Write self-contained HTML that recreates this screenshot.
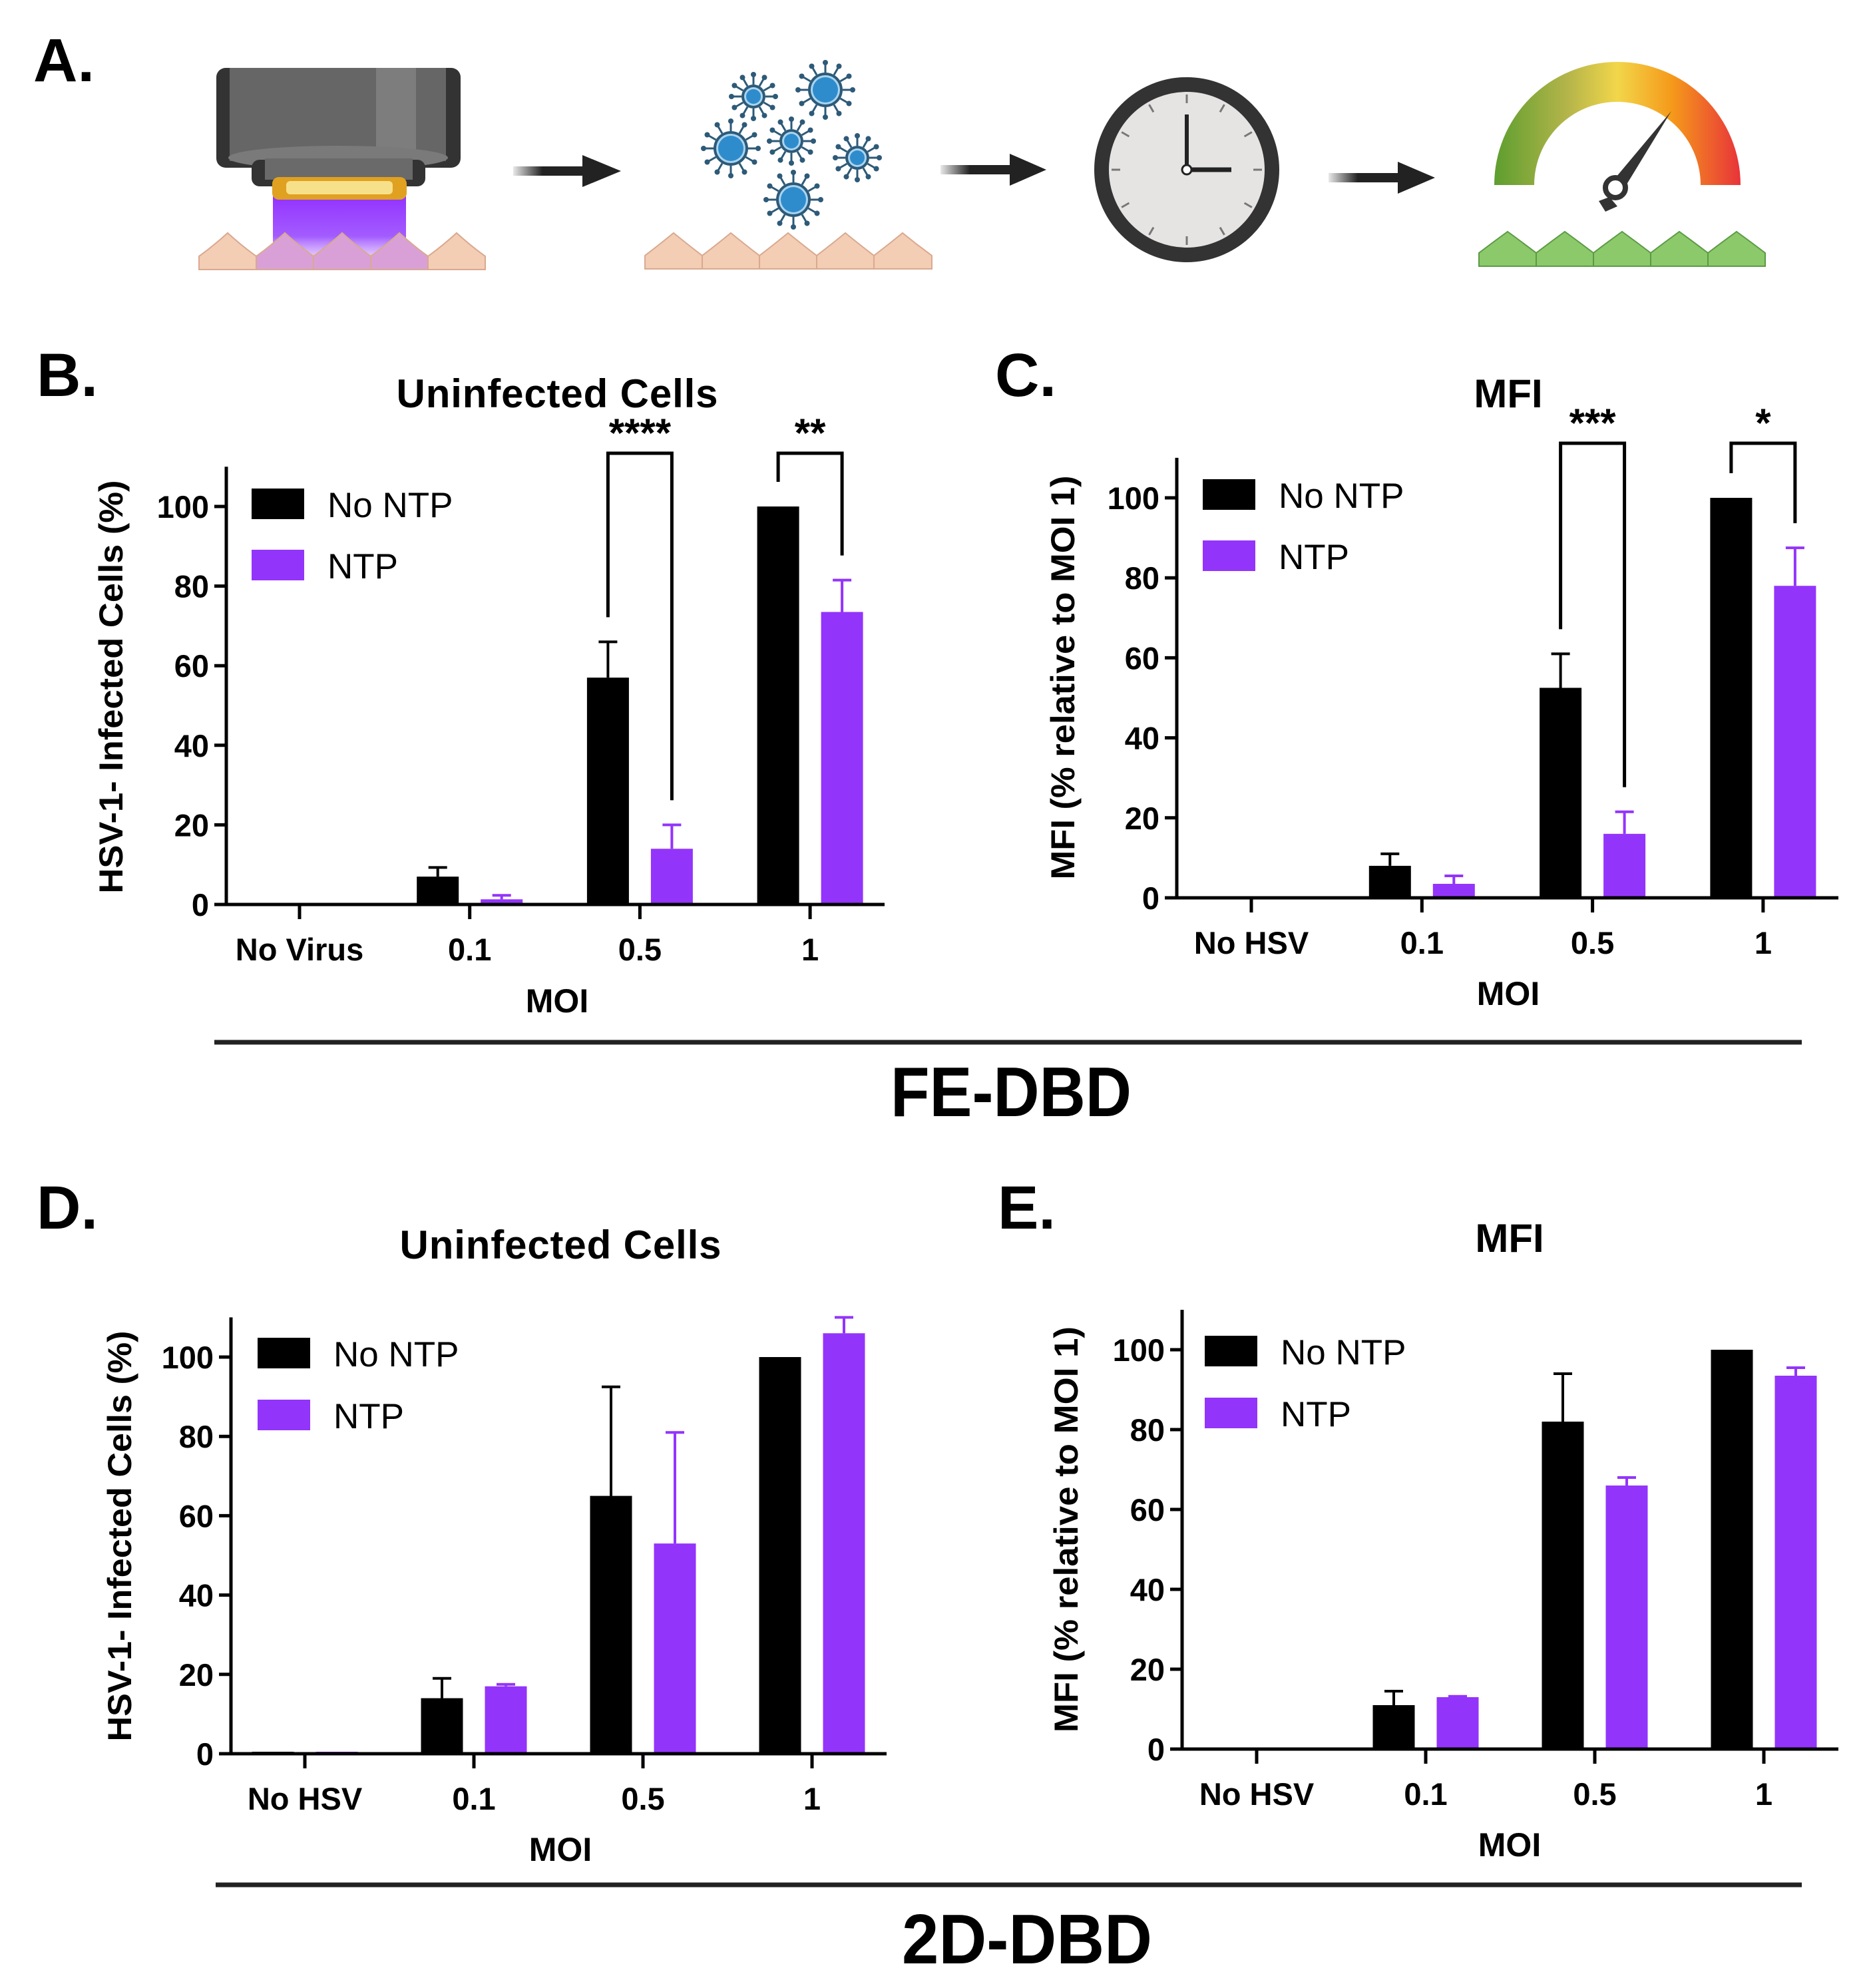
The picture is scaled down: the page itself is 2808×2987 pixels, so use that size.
<!DOCTYPE html>
<html><head><meta charset="utf-8"><style>
html,body{margin:0;padding:0;background:#fff;}
svg{display:block;font-family:"Liberation Sans",Arial,sans-serif;}
</style></head><body>
<svg id="fig" width="2808" height="2987" viewBox="0 0 2808 2987" xmlns="http://www.w3.org/2000/svg">
<defs>
<linearGradient id="beam" x1="0" y1="0" x2="0" y2="1"><stop offset="0" stop-color="#9333ff"/><stop offset="0.6" stop-color="#a35cff"/><stop offset="1" stop-color="#e6ccff" stop-opacity="0.6"/></linearGradient>
<linearGradient id="gauge" x1="0" y1="0" x2="1" y2="0"><stop offset="0" stop-color="#5d9e2f"/><stop offset="0.3" stop-color="#b5b54a"/><stop offset="0.5" stop-color="#f2d64a"/><stop offset="0.72" stop-color="#f59a1a"/><stop offset="1" stop-color="#e8333a"/></linearGradient>
<linearGradient id="arrowfade" x1="0" y1="0" x2="1" y2="0"><stop offset="0" stop-color="#222" stop-opacity="0.1"/><stop offset="0.4" stop-color="#222"/></linearGradient>
</defs>

<g>
<text x="50" y="122" font-size="92" font-weight="bold">A.</text>
<g>
<rect x="325" y="102" width="367" height="150" rx="14" fill="#333"/>
<rect x="345" y="102" width="325" height="140" fill="#666"/>
<rect x="565" y="102" width="60" height="140" fill="#7d7d7d"/>
<ellipse cx="508" cy="237" rx="165" ry="18" fill="#7a7a7a"/>
<rect x="378" y="240" width="261" height="40" rx="12" fill="#333"/>
<rect x="398" y="238" width="222" height="32" fill="#6a6a6a"/>
<rect x="410" y="295" width="200" height="100" fill="url(#beam)"/>
<rect x="409" y="266" width="202" height="34" rx="10" fill="#e0a020"/>
<rect x="430" y="272" width="160" height="20" rx="6" fill="#f7e08a"/>
</g>
<g fill="#f3cdb4" stroke="#d9a98f" stroke-width="2">
<path d="M299 405 V385 Q320 370 342 350 Q364 370 385 385 V405 Z"/><path d="M385 405 V385 Q406 370 428 350 Q450 370 471 385 V405 Z" fill="#d9a0d8"/><path d="M471 405 V385 Q492 370 514 350 Q536 370 557 385 V405 Z" fill="#d9a0d8"/><path d="M557 405 V385 Q578 370 600 350 Q622 370 643 385 V405 Z" fill="#d9a0d8"/><path d="M643 405 V385 Q664 370 686 350 Q708 370 729 385 V405 Z"/>
</g>
<g><rect x="771" y="250" width="110" height="14" fill="url(#arrowfade)"/><polygon points="875,233 933,257 875,281" fill="#222"/></g>
<g><rect x="1413" y="248" width="110" height="14" fill="url(#arrowfade)"/><polygon points="1517,231 1572,255 1517,279" fill="#222"/></g>
<g><rect x="1996" y="260" width="110" height="14" fill="url(#arrowfade)"/><polygon points="2100,243 2156,267 2100,291" fill="#222"/></g>
<g id="viruses"></g>
<g fill="#f3cdb4" stroke="#d9a98f" stroke-width="2">
<path d="M969 404 V384 Q990 368 1012 350 Q1034 368 1055 384 V404 Z"/><path d="M1055 404 V384 Q1076 368 1098 350 Q1120 368 1141 384 V404 Z"/><path d="M1141 404 V384 Q1162 368 1184 350 Q1206 368 1227 384 V404 Z"/><path d="M1227 404 V384 Q1248 368 1270 350 Q1292 368 1313 384 V404 Z"/><path d="M1313 404 V384 Q1334 368 1356 350 Q1378 368 1400 384 V404 Z"/>
</g>
<g>
<circle cx="1783" cy="255" r="128" fill="#e6e3e3" stroke="#333" stroke-width="22"/>
<g id="clockticks" stroke="#777" stroke-width="3"></g>
<line x1="1783" y1="255" x2="1783" y2="172" stroke="#222" stroke-width="6"/>
<line x1="1783" y1="255" x2="1850" y2="255" stroke="#222" stroke-width="7"/>
<circle cx="1783" cy="255" r="7" fill="#fff" stroke="#222" stroke-width="3"/>
</g>
<g>
<path d="M2245 278 A185 185 0 0 1 2615 278 L2555 278 A125 125 0 0 0 2305 278 Z" fill="url(#gauge)"/>
<polygon points="2511,167 2436,290 2418,278" fill="#333"/>
<circle cx="2427" cy="282" r="15" fill="#fff" stroke="#333" stroke-width="8"/>
<polygon points="2402,302 2418,296 2430,310 2412,318" fill="#333"/>
</g>
<g fill="#8cc96a" stroke="#5b9a45" stroke-width="2">
<path d="M2222 400 V380 Q2243 364 2265 348 Q2287 364 2308 380 V400 Z"/><path d="M2308 400 V380 Q2329 364 2351 348 Q2373 364 2394 380 V400 Z"/><path d="M2394 400 V380 Q2415 364 2437 348 Q2459 364 2480 380 V400 Z"/><path d="M2480 400 V380 Q2501 364 2523 348 Q2545 364 2566 380 V400 Z"/><path d="M2566 400 V380 Q2587 364 2609 348 Q2631 364 2652 380 V400 Z"/>
</g>
</g>

<g id="charts"></g>

<line x1="322" y1="1566" x2="2707" y2="1566" stroke="#222" stroke-width="7"/>
<text x="1338" y="1677" font-size="106" font-weight="bold" textLength="362" lengthAdjust="spacingAndGlyphs">FE-DBD</text>
<line x1="324" y1="2832" x2="2707" y2="2832" stroke="#222" stroke-width="7"/>
<text x="1355" y="2950" font-size="106" font-weight="bold" textLength="376" lengthAdjust="spacingAndGlyphs">2D-DBD</text>
</svg>
<script>
const categoriesB = ["No Virus","0.1","0.5","1"];
const categoriesOther = ["No HSV","0.1","0.5","1"];
const yTicks = [0,20,40,60,80,100];
const seriesNames = ["No NTP","NTP"];
const bNoNtp = [0,7,57,100];
const bNoNtpErr = [null,9.3,66,null];
const bNtp = [0,1.3,14,73.5];
const bNtpErr = [null,2.3,20,81.5];
const cNoNtp = [0,8,52.5,100];
const cNoNtpErr = [null,11,61,null];
const cNtp = [0,3.5,16,78];
const cNtpErr = [null,5.5,21.5,87.5];
const dNoNtp = [0.5,14,65,100];
const dNoNtpErr = [null,19,92.5,null];
const dNtp = [0.5,17,53,106];
const dNtpErr = [null,17.5,81,110];
const eNoNtp = [0,11,82,100];
const eNoNtpErr = [null,14.5,94,null];
const eNtp = [0,13,66,93.5];
const eNtpErr = [null,13.2,68,95.5];
const bSig = [{cat:2,label:"****"},{cat:3,label:"**"}];
const cSig = [{cat:2,label:"***"},{cat:3,label:"*"}];

const NS = "http://www.w3.org/2000/svg";
function mk(tag, attrs, parent, text){
  const e = document.createElementNS(NS, tag);
  for (const k in attrs) e.setAttribute(k, attrs[k]);
  if (text !== undefined) e.textContent = text;
  parent.appendChild(e);
  return e;
}
const PURPLE = "#9334fb";

function drawChart(cfg){
  const root = document.getElementById("charts");
  const g = mk("g", {}, root);
  
  
  const yScale = v => cfg.y0 - (cfg.y0 - cfg.y100) * v / 100;
  const xCat = i => cfg.x0 + cfg.step * i;
  const yTop = yScale(110);

  const pl = mk("text", {x: cfg.letterX, y: cfg.letterY, "font-size": 92, "font-weight": "bold"}, g, cfg.letter);
  
  
  const t = mk("text", {x: cfg.titleX, y: cfg.titleY, "font-size": 60, "font-weight": "bold", "text-anchor": "middle"}, g, cfg.title);
  if (cfg.titleLen) t.setAttribute("textLength", cfg.titleLen);
  
  

  const bw = 63, off = 48;
  [[cfg.s1, cfg.e1, "#000"], [cfg.s2, cfg.e2, PURPLE]].forEach((ser, si) => {
    ser[0].forEach((v, i) => {
      const cx = xCat(i) + (si === 0 ? -off : off);
      const yv = Math.max(yScale(v), yTop);
      if (v > 0) {
        const r = mk("rect", {x: cx - bw/2, y: yv, width: bw, height: cfg.y0 - yv, fill: ser[2]}, g);
        
        
      }
      const ev = ser[1][i];
      if (ev !== null && ev !== undefined) {
        const ye = Math.max(yScale(ev), yTop);
        const el = mk("path", {d: `M${cx} ${yv} V${ye} M${cx-14} ${ye} H${cx+14}`, stroke: ser[2], "stroke-width": 4, fill: "none"}, g);
        
        
      }
    });
  });

  const ax = mk("path", {d: `M${cfg.axX} ${yTop} V${cfg.y0} H${cfg.xEnd}`, stroke: "#000", "stroke-width": 5, fill: "none"}, g);
  
  
  yTicks.forEach(v => {
    const y = yScale(v);
    mk("line", {x1: cfg.axX - 18, x2: cfg.axX, y1: y, y2: y, stroke: "#000", "stroke-width": 5}, g);
    const tl = mk("text", {x: cfg.axX - 26, y: y + 17, "font-size": 47, "font-weight": "bold", "text-anchor": "end"}, g, String(v));
    
    
  });
  cfg.cats.forEach((c, i) => {
    const x = xCat(i);
    mk("line", {x1: x, x2: x, y1: cfg.y0, y2: cfg.y0 + 22, stroke: "#000", "stroke-width": 5}, g);
    const tl = mk("text", {x: x, y: cfg.tickY, "font-size": 47, "font-weight": "bold", "text-anchor": "middle"}, g, c);
    
    
  });
  const xt = mk("text", {x: cfg.titleX, y: cfg.moiY, "font-size": 50, "font-weight": "bold", "text-anchor": "middle"}, g, "MOI");
  
  
  const yt = mk("text", {x: 0, y: 0, "font-size": 50, "font-weight": "bold", "text-anchor": "middle", textLength: cfg.yTitleLen, lengthAdjust: "spacingAndGlyphs", transform: `translate(${cfg.yTitleX} ${cfg.yTitleMid}) rotate(-90)`}, g, cfg.yTitle);
  
  

  const lg = mk("g", {}, g);
  
  
  [["#000", cfg.legY1], [PURPLE, cfg.legY2]].forEach((p, i) => {
    const sw = mk("rect", {x: cfg.legX, y: p[1], width: 79, height: 46, fill: p[0]}, lg);
    
    
    const lt = mk("text", {x: cfg.legX + 114, y: p[1] + 43, "font-size": 53}, lg, seriesNames[i]);
    
    
  });

  (cfg.sig || []).forEach(s => {
    const i = s.cat;
    const xl = xCat(i) - off, xr = xCat(i) + off;
    const yl = Math.max(yScale(cfg.e1[i] !== null ? cfg.e1[i] : cfg.s1[i]), yTop) - 37;
    const yr = Math.max(yScale(cfg.e2[i] !== null ? cfg.e2[i] : cfg.s2[i]), yTop) - 37;
    const yb = cfg.brY;
    const br = mk("path", {d: `M${xl} ${yl} V${yb} H${xr} V${yr}`, stroke: "#000", "stroke-width": 5, fill: "none"}, g);
    
    
    const st = mk("text", {x: (xl + xr) / 2, y: yb - 10, "font-size": 60, "font-weight": "bold", "text-anchor": "middle"}, g, s.label);
    
    
  });
}

drawChart({name:"chart-b-uninfected-cells", letter:"B.", letterX:55, letterY:595, title:"Uninfected Cells", titleX:837, titleY:612, titleLen:483,
  axX:340, y0:1359, y100:761, xEnd:1329, x0:450, step:255.7, cats:categoriesB, tickY:1443, moiY:1521,
  yTitle:"HSV-1- Infected Cells (%)", yTitleX:184, yTitleMid:1032, yTitleLen:621,
  legX:378, legY1:734, legY2:826, s1:bNoNtp, e1:bNoNtpErr, s2:bNtp, e2:bNtpErr, sig:bSig, brY:681});
drawChart({name:"chart-c-mfi", letter:"C.", letterX:1495, letterY:595, title:"MFI", titleX:2266, titleY:612,
  axX:1768, y0:1349, y100:748, xEnd:2762, x0:1880, step:256.3, cats:categoriesOther, tickY:1433, moiY:1510,
  yTitle:"MFI (% relative to MOI 1)", yTitleX:1614, yTitleMid:1018, yTitleLen:607,
  legX:1807, legY1:720, legY2:812, s1:cNoNtp, e1:cNoNtpErr, s2:cNtp, e2:cNtpErr, sig:cSig, brY:666});
drawChart({name:"chart-d-uninfected-cells", letter:"D.", letterX:55, letterY:1846, title:"Uninfected Cells", titleX:842, titleY:1891, titleLen:483,
  axX:347, y0:2635, y100:2039, xEnd:1332, x0:458, step:254, cats:categoriesOther, tickY:2719, moiY:2796,
  yTitle:"HSV-1- Infected Cells (%)", yTitleX:197, yTitleMid:2308, yTitleLen:617,
  legX:387, legY1:2010, legY2:2103, s1:dNoNtp, e1:dNoNtpErr, s2:dNtp, e2:dNtpErr, sig:[], brY:0});
drawChart({name:"chart-e-mfi", letter:"E.", letterX:1499, letterY:1846, title:"MFI", titleX:2268, titleY:1881,
  axX:1776, y0:2628, y100:2028, xEnd:2762, x0:1888, step:254, cats:categoriesOther, tickY:2712, moiY:2789,
  yTitle:"MFI (% relative to MOI 1)", yTitleX:1619, yTitleMid:2298, yTitleLen:610,
  legX:1810, legY1:2007, legY2:2100, s1:eNoNtp, e1:eNoNtpErr, s2:eNtp, e2:eNtpErr, sig:[], brY:0});

(function(){
  const vg = document.getElementById("viruses");
  const vs = [[1132,145,18],[1240,135,26],[1098,223,26],[1189,212,18],[1288,237,18],[1192,300,26]];
  vs.forEach(v => {
    const [cx, cy, r] = v;
    for (let k = 0; k < 12; k++) {
      const a = k * Math.PI / 6;
      mk("line", {x1: cx + Math.cos(a)*r, y1: cy + Math.sin(a)*r, x2: cx + Math.cos(a)*(r+14), y2: cy + Math.sin(a)*(r+14), stroke: "#2d5a78", "stroke-width": 3}, vg);
      mk("circle", {cx: cx + Math.cos(a)*(r+15), cy: cy + Math.sin(a)*(r+15), r: 4, fill: "#2d5a78"}, vg);
    }
    mk("circle", {cx, cy, r, fill: "#2d5a78"}, vg);
    mk("circle", {cx, cy, r: r-4, fill: "#a8d4f0"}, vg);
    mk("circle", {cx, cy, r: r-7, fill: "#2f8ccc"}, vg);
  });
  const ct = document.getElementById("clockticks");
  for (let k = 0; k < 12; k++) {
    const a = k * Math.PI / 6;
    mk("line", {x1: 1783 + Math.cos(a)*100, y1: 255 + Math.sin(a)*100, x2: 1783 + Math.cos(a)*113, y2: 255 + Math.sin(a)*113}, ct);
  }
})();
</script>
</body></html>
